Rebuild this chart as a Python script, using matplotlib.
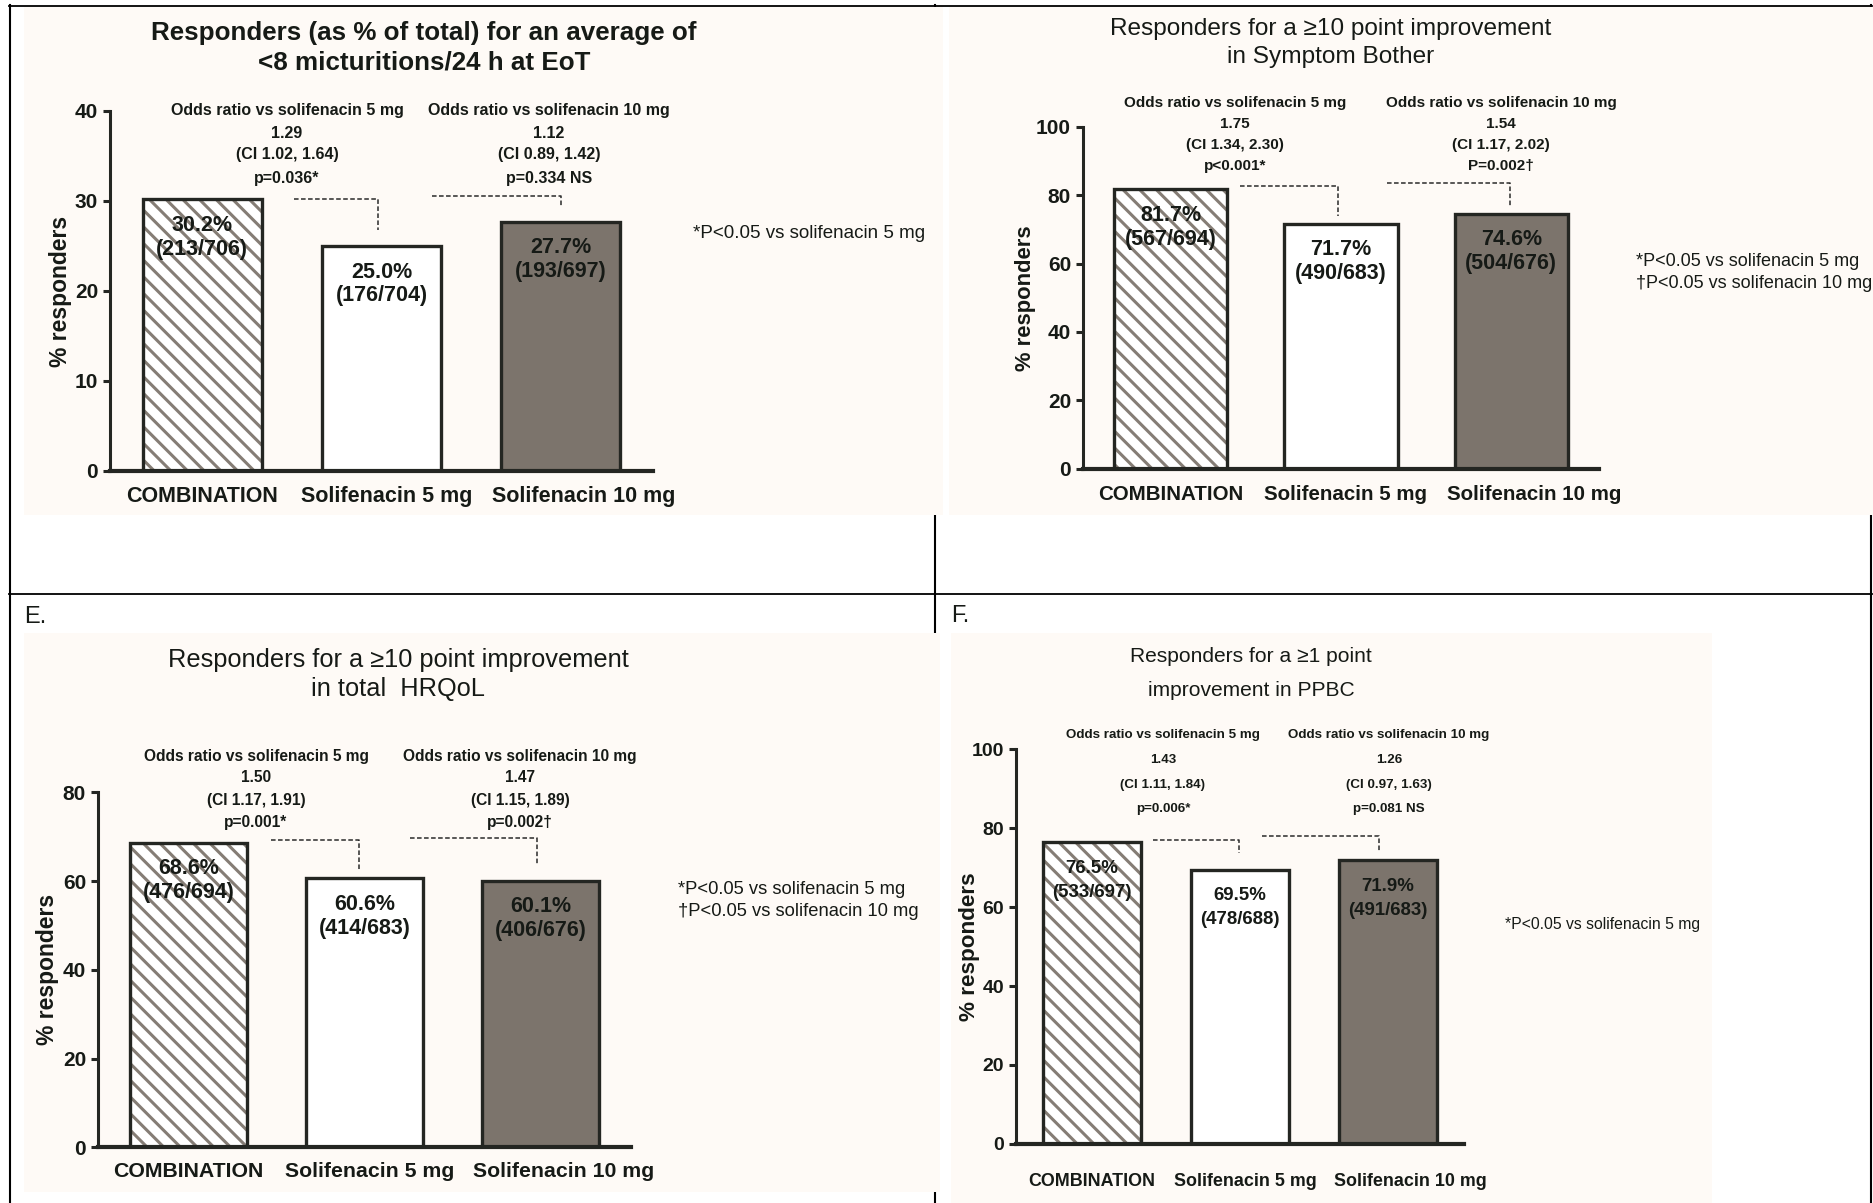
import numpy as np
import matplotlib
matplotlib.use('Agg')
import matplotlib.pyplot as plt
from matplotlib.patches import Rectangle

W, H = 1874, 1203

groups = ['COMBINATION', 'Solifenacin 5 mg', 'Solifenacin 10 mg']

# <8 micturitions/24 h at EoT
pct_a = [30.2, 25.0, 27.7]
resp_a = [213, 176, 193]
total_a = [706, 704, 697]
odds_a = [['1.29', '(CI 1.02, 1.64)', 'p=0.036*'],
          ['1.12', '(CI 0.89, 1.42)', 'p=0.334 NS']]
yticks_a = [0, 10, 20, 30, 40]
notes_a = ['*P<0.05 vs solifenacin 5 mg']

# >=10 point improvement in Symptom Bother
pct_b = [81.7, 71.7, 74.6]
resp_b = [567, 490, 504]
total_b = [694, 683, 676]
odds_b = [['1.75', '(CI 1.34, 2.30)', 'p<0.001*'],
          ['1.54', '(CI 1.17, 2.02)', 'P=0.002\u2020']]
yticks_b = [0, 20, 40, 60, 80, 100]
notes_b = ['*P<0.05 vs solifenacin 5 mg', '\u2020P<0.05 vs solifenacin 10 mg']

# >=10 point improvement in total HRQoL
pct_e = [68.6, 60.6, 60.1]
resp_e = [476, 414, 406]
total_e = [694, 683, 676]
odds_e = [['1.50', '(CI 1.17, 1.91)', 'p=0.001*'],
          ['1.47', '(CI 1.15, 1.89)', 'p=0.002\u2020']]
yticks_e = [0, 20, 40, 60, 80]
notes_e = ['*P<0.05 vs solifenacin 5 mg', '\u2020P<0.05 vs solifenacin 10 mg']

# >=1 point improvement in PPBC
pct_f = [76.5, 69.5, 71.9]
resp_f = [533, 478, 491]
total_f = [697, 688, 683]
odds_f = [['1.43', '(CI 1.11, 1.84)', 'p=0.006*'],
          ['1.26', '(CI 0.97, 1.63)', 'p=0.081 NS']]
yticks_f = [0, 20, 40, 60, 80, 100]
notes_f = ['*P<0.05 vs solifenacin 5 mg']

odds_heads = ['Odds ratio vs solifenacin 5 mg', 'Odds ratio vs solifenacin 10 mg']

BG = '#fefaf6'
HATCH = '#857d75'
DARK = '#7c746c'
EDGE = '#242622'
INK = '#161a16'


def fnt(size, narrow=False, bold=False):
    # the last panel uses tighter lettering: shrink it to keep the widths
    return dict(family='Liberation Sans', fontsize=size * (0.84 if narrow else 1.0),
                fontweight='bold' if bold else 'normal', color=INK)


plt.rcParams['font.family'] = ['Liberation Sans', 'DejaVu Sans']
plt.rcParams['hatch.linewidth'] = 2.2

panels = [
    dict(pct=pct_a, resp=resp_a, total=total_a, odds=odds_a, yticks=yticks_a, notes=notes_a,
         title=['Responders (as % of total) for an average of', '<8 micturitions/24 h at EoT'],
         box=(110, 653, 111, 471), title_x=424, title_y=(33, 62), title_size=18.7, title_bold=True,
         ann_x=(287, 549), ann_y=(110, 133, 155, 178), ann_size=11.5,
         note_x=693, note_y=(234,), note_size=13.5,
         ylab_x=61, ylab_size=16.5, xlab_y=26, tick_size=15.5, bar_size=15.5, narrow=False,
         brackets=[(0.51, 0.98, 0, 16), (1.28, 2.0, 3, 15)]),
    dict(pct=pct_b, resp=resp_b, total=total_b, odds=odds_b, yticks=yticks_b, notes=notes_b,
         title=['Responders for a \u226510 point improvement', 'in Symptom Bother'],
         box=(1083, 1599, 127, 468.5), title_x=1331, title_y=(29, 57), title_size=17.6, title_bold=False,
         ann_x=(1235, 1501), ann_y=(103, 124, 145, 166), ann_size=11,
         note_x=1636, note_y=(261, 283), note_size=13,
         ylab_x=1026, ylab_size=15.8, xlab_y=25.5, tick_size=14.8, bar_size=15.5, narrow=False,
         brackets=[(0.405, 0.98, 3, 8), (1.27, 1.99, 6, 8)]),
    dict(pct=pct_e, resp=resp_e, total=total_e, odds=odds_e, yticks=yticks_e, notes=notes_e,
         title=['Responders for a \u226510 point improvement', 'in total  HRQoL'],
         box=(98, 631, 792.4, 1147.4), title_x=398, title_y=(660, 689), title_size=18.3, title_bold=False,
         ann_x=(256, 520), ann_y=(756, 777, 800, 822), ann_size=11.2,
         note_x=678, note_y=(890, 912), note_size=13.2,
         ylab_x=48, ylab_size=16.5, xlab_y=24, tick_size=15.3, bar_size=15.5, narrow=False,
         brackets=[(0.47, 0.97, 3, 8), (1.26, 1.98, 5, 16)]),
    dict(pct=pct_f, resp=resp_f, total=total_f, odds=odds_f, yticks=yticks_f, notes=notes_f,
         title=['Responders for a \u22651 point', 'improvement in PPBC'],
         box=(1016, 1464, 749.4, 1143.8), title_x=1251, title_y=(657, 690), title_size=18, title_bold=False,
         ann_x=(1163, 1389), ann_y=(735, 760, 785, 809), ann_size=11.5,
         note_x=1505, note_y=(925,), note_size=13.5,
         ylab_x=970, ylab_size=16.2, xlab_y=38, tick_size=15.3, bar_size=16, narrow=True,
         brackets=[(0.41, 0.99, 2.5, 17), (1.15, 1.94, 6, 9)]),
]

# category labels sit a little right of their bars
xlab_shift = [0, 5, 23]

fig = plt.figure(figsize=(W / 100, H / 100), dpi=100)
fig.patch.set_facecolor('white')

# full-figure layer in pixel units for the table rules, backgrounds and free text
ov = fig.add_axes([0, 0, 1, 1])
ov.set_xlim(0, W)
ov.set_ylim(H, 0)
ov.axis('off')
ov.set_zorder(-5)

for x in (10, 935, 1871):
    ov.plot([x, x], [5, H], color='black', lw=1.5, zorder=1)
for y in (5.7, 594):
    ov.plot([9, 1872], [y, y], color='black', lw=1.3, zorder=1)
for x0, y0, x1, y1 in [(24, 7, 943, 515), (949, 7, 1874, 515),
                       (24, 633, 940, 1192), (951, 633, 1712, 1203)]:
    ov.add_patch(Rectangle((x0, y0), x1 - x0, y1 - y0, facecolor=BG, edgecolor='none', zorder=2))

ov.text(24, 617, 'E.', va='center', ha='left', **fnt(17))
ov.text(951, 616, 'F.', va='center', ha='left', **fnt(17))

xs = np.arange(len(groups))
bw = 0.665

for p in panels:
    left, right, top, bottom = p['box']
    narrow = p['narrow']
    ax = fig.add_axes([left / W, 1 - bottom / H, (right - left) / W, (bottom - top) / H])
    ax.set_facecolor('none')
    ymax = p['yticks'][-1]
    ax.set_xlim(-0.515, 2.515)
    ax.set_ylim(0, ymax)
    upp = ymax / (bottom - top)   # data units per pixel
    pct = p['pct']

    ax.bar(xs[0], pct[0], width=bw, color='white', hatch='\\\\', edgecolor=HATCH,
           linewidth=0, zorder=2)
    ax.bar(xs, pct, width=bw, color=['none', 'white', DARK], edgecolor=EDGE,
           linewidth=2.4, zorder=3)

    lab = fnt(p['bar_size'], narrow, bold=True)
    for i in xs:
        ax.annotate(f'{pct[i]:.1f}%', (i, pct[i]), xytext=(0, -26 * 0.72),
                    textcoords='offset points', ha='center', va='center', zorder=5, **lab)
        ax.annotate(f'({p["resp"][i]}/{p["total"][i]})', (i, pct[i]), xytext=(0, -50 * 0.72),
                    textcoords='offset points', ha='center', va='center', zorder=5, **lab)

    # category names under the axis
    for i, g in enumerate(groups):
        ax.annotate(g, (i, 0), xytext=(xlab_shift[i] * 0.72, -p['xlab_y'] * 0.72),
                    textcoords='offset points', ha='center', va='center',
                    annotation_clip=False, **fnt(p['tick_size'], narrow, bold=True))

    # dashed comparison brackets from the combination bar to each comparator
    for (x0, x1, rise, gap), target in zip(p['brackets'], (1, 2)):
        y_top = pct[0] + rise * upp
        y_end = pct[target] + gap * upp
        ax.plot([x0, x1, x1], [y_top, y_top, y_end], color='#2a2a2a', lw=1.1,
                ls=(0, (3, 1.6)), zorder=4, clip_on=False)

    for sp in ('top', 'right'):
        ax.spines[sp].set_visible(False)
    ax.spines['left'].set_linewidth(2.2)
    ax.spines['bottom'].set_linewidth(3.0)
    ax.spines['left'].set_color(EDGE)
    ax.spines['bottom'].set_color(EDGE)
    ax.spines['bottom'].set_zorder(6)

    ax.set_yticks(p['yticks'])
    ax.tick_params(axis='y', length=5, width=2.2, pad=3.6, color=EDGE)
    for t in ax.get_yticklabels():
        t.update(fnt(15 if not narrow else 14, False, bold=True))
    ax.set_xticks([])

    ax.set_ylabel('% responders', **fnt(p['ylab_size'], False, bold=True))
    ax.yaxis.set_label_coords((p['ylab_x'] - left) / (right - left), 0.5)
    ax.yaxis.label.set_va('center')

    for line, y in zip(p['title'], p['title_y']):
        ov.text(p['title_x'], y, line, ha='center', va='center',
                **fnt(p['title_size'], narrow, bold=p['title_bold']))

    for cx, head, rows in zip(p['ann_x'], odds_heads, p['odds']):
        for txt, y in zip([head] + rows, p['ann_y']):
            ov.text(cx, y, txt, ha='center', va='center', **fnt(p['ann_size'], narrow, bold=True))

    for txt, y in zip(p['notes'], p['note_y']):
        ov.text(p['note_x'], y, txt, ha='left', va='center', **fnt(p['note_size'], narrow))

fig.savefig('out.png', dpi=100)
